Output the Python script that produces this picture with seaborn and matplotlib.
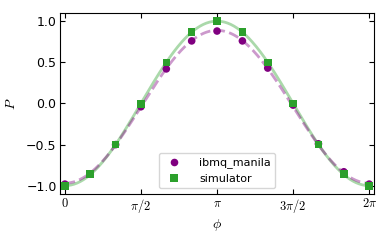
import numpy as np
import pandas as pd
import matplotlib
matplotlib.use("Agg")
import matplotlib.pyplot as plt
import seaborn as sns

# phase values k*pi/6, k = 0..12
phi_steps = list(range(13))
manila_p = [-0.98, -0.86, -0.50, -0.04, 0.42, 0.76, 0.88, 0.76, 0.43, -0.02, -0.49, -0.83, -0.98]
simulator_p = [-1.00, -0.86, -0.50, -0.01, 0.50, 0.87, 1.00, 0.87, 0.50, 0.00, -0.50, -0.86, -1.00]
xtick_labels = [r"$0$", r"$\pi/2$", r"$\pi$", r"$3\pi/2$", r"$2\pi$"]

phi = np.array(phi_steps) * np.pi / 6
points = pd.DataFrame({
    "phi": np.concatenate([phi, phi]),
    "P": manila_p + simulator_p,
    "source": ["ibmq_manila"] * len(phi) + ["simulator"] * len(phi),
})

# smooth curves: least-squares fit of A*cos(phi) + B to each set of points
grid = np.linspace(0, 2 * np.pi, 300)
design = np.column_stack([np.cos(phi), np.ones_like(phi)])
fit_m = np.linalg.lstsq(design, np.array(manila_p), rcond=None)[0]
fit_s = np.linalg.lstsq(design, np.array(simulator_p), rcond=None)[0]
curve_m = fit_m[0] * np.cos(grid) + fit_m[1]
curve_s = fit_s[0] * np.cos(grid) + fit_s[1]

plt.rcParams["mathtext.fontset"] = "cm"
plt.rcParams["font.size"] = 8.5

fig, ax = plt.subplots(figsize=(3.9, 2.44), dpi=100)
fig.subplots_adjust(left=0.154, right=0.959, top=0.947, bottom=0.205)

sns.lineplot(x=grid, y=curve_s, color="tab:green", alpha=0.4, lw=2, ax=ax)
sns.lineplot(x=grid, y=curve_m, color="purple", alpha=0.4, lw=2, ls="--", ax=ax)
sns.scatterplot(data=points, x="phi", y="P", hue="source", style="source",
                markers={"ibmq_manila": "o", "simulator": "s"},
                palette={"ibmq_manila": "purple", "simulator": "tab:green"},
                s=30, linewidth=0, ax=ax, zorder=3)

ax.set_xlim(-0.1, 2 * np.pi + 0.1)
ax.set_ylim(-1.1, 1.1)
ax.set_xticks(np.arange(5) * np.pi / 2)
ax.set_xticklabels(xtick_labels)
ax.set_yticks([-1.0, -0.5, 0.0, 0.5, 1.0])
ax.tick_params(direction="in", top=True, right=True, labelsize=9, pad=2.5)
ax.set_xlabel(r"$\phi$", fontsize=10, labelpad=1)
ax.set_ylabel(r"$P$", fontsize=10, labelpad=6)
ax.legend(loc="lower center", fontsize=8, title=None, handletextpad=1.2)

fig.savefig("out.png", dpi=100)
